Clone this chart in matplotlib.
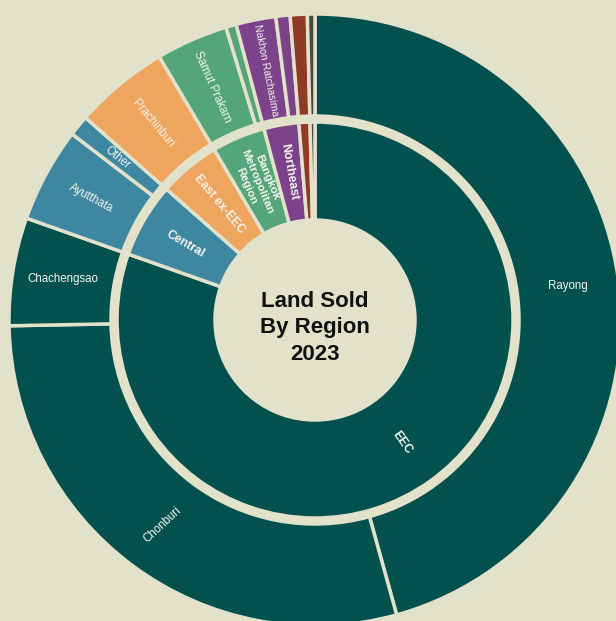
import matplotlib.pyplot as plt
import numpy as np

plt.rcParams['font.family'] = ['Liberation Sans', 'DejaVu Sans']

# share of land sold in 2023 (%), by province, grouped by region
regions = ['EEC', 'Central', 'East ex-EEC', 'Bangkok\nMetropolitan\nRegion', 'Northeast', 'North', 'South']
region_colors = ['#03514e', '#3e87a1', '#eea55e', '#54a67a', '#7c428a', '#8f3a24', '#474747']

provinces = ['Rayong', 'Chonburi', 'Chachengsao', 'Ayutthata', 'Other', 'Prachinburi',
             'Samut Prakarn', 'Pathum Thani', 'Nakhon Ratchasima', 'Northeast other',
             'North other', 'South other']
province_region = [0, 0, 0, 1, 1, 2, 3, 3, 4, 4, 5, 6]
province_share = [45.7, 29.0, 5.7, 5.0, 1.1, 5.0, 3.8, 0.55, 2.1, 0.75, 0.9, 0.4]
# labels shown on the outer ring ('' = too thin to label), 'h' horizontal / 'r' radial
province_labels = ['Rayong', 'Chonburi', 'Chachengsao', 'Ayutthata', 'Other', 'Prachinburi',
                   'Samut Prakarn', '', 'Nakhon Ratchasima', '', '', '']
province_orient = ['h', 43, 'h', 'r', 'r', 'r', 'r', 'r', 'r', 'r', 'r', 'r']
province_fsize = [8.3] * 8 + [7.5] + [8.3] * 3

region_share = [sum(s for s, r in zip(province_share, province_region) if r == i)
                for i in range(len(regions))]
region_labels = ['EEC', 'Central', 'East ex-EEC', 'Bangkok\nMetropolitan\nRegion', 'Northeast', '', '']
region_fsize = [8.8, 8.8, 8.8, 8.2, 8.8, 8.8, 8.8]

bg = '#e2e1c9'
cx, cy = 315, 301

fig = plt.figure(figsize=(6.16, 6.21), dpi=100, facecolor=bg)
ax = fig.add_axes([0, 0, 1, 1])
ax.set_facecolor(bg)

ax.pie(province_share, radius=306, center=(cx, cy), startangle=90, counterclock=False,
       colors=[region_colors[r] for r in province_region],
       wedgeprops=dict(width=102, edgecolor=bg, linewidth=2.5))
ax.pie(region_share, radius=198, center=(cx, cy), startangle=90, counterclock=False,
       colors=region_colors,
       wedgeprops=dict(width=98, edgecolor=bg, linewidth=2.5))


def place_labels(shares, labels, orient, sizes, radius, **kw):
    edges = np.cumsum([0] + list(shares)) / np.sum(shares) * 360
    for i, lab in enumerate(labels):
        if not lab:
            continue
        th = (edges[i] + edges[i + 1]) / 2
        x = cx + radius * np.sin(np.radians(th))
        y = cy + radius * np.cos(np.radians(th))
        o = orient[i]
        if o == 'h':
            rot = 0
        elif o == 'r':
            rot = (90 - th) % 180
            if rot > 90:
                rot -= 180
        else:
            rot = o
        ax.text(x, y, lab, rotation=rot, ha='center', va='center', fontsize=sizes[i],
                rotation_mode='anchor', color='#f4f4ee', **kw)


place_labels(province_share, province_labels, province_orient, province_fsize, 255)
place_labels(region_share, region_labels, ['r'] * len(regions), region_fsize, 150,
             fontweight='bold', linespacing=1.15)

ax.text(cx, cy - 8, 'Land Sold\nBy Region\n2023', ha='center', va='center',
        fontsize=16, fontweight='bold', color='#111111', linespacing=1.35)

ax.set_xlim(0, 616)
ax.set_ylim(0, 621)
ax.set_aspect('equal')
ax.axis('off')

fig.savefig('out.png', dpi=100, facecolor=bg)
